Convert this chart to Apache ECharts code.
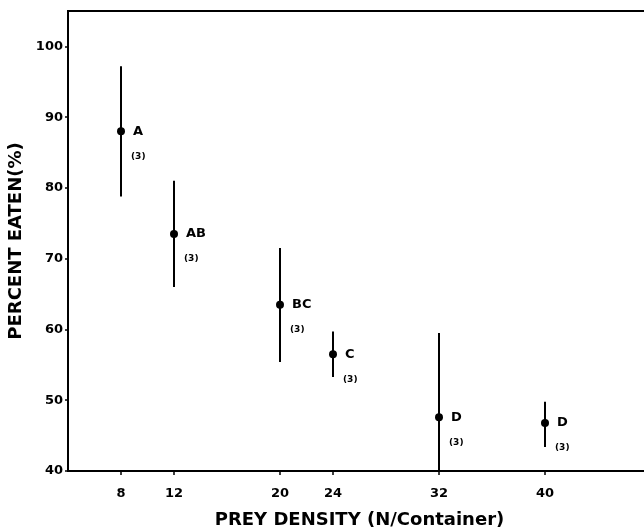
<!DOCTYPE html>
<html>
<head>
<meta charset="utf-8">
<script src="https://cdn.jsdelivr.net/npm/echarts@6/dist/echarts.min.js"></script>
<style>html,body{margin:0;padding:0;background:#fff}#c{width:644px;height:530px}</style>
</head>
<body>
<div id="c"></div>
<script>
// Data
const preyDensity = [8, 12, 20, 24, 32, 40];
const percentEaten = [88, 73.5, 63.5, 56.5, 47.6, 46.8];
const upperBound = [97.2, 81, 71.5, 59.7, 59.5, 49.8];
const lowerBound = [78.8, 66, 55.4, 53.3, 40, 43.4];
const groupLetters = ['A', 'AB', 'BC', 'C', 'D', 'D'];
const sampleSizes = ['(3)', '(3)', '(3)', '(3)', '(3)', '(3)'];
const xTickLabels = [8, 12, 20, 24, 32, 40];
const yTickLabels = [40, 50, 60, 70, 80, 90, 100];

const FONT = '"DejaVu Sans", "Liberation Sans", sans-serif';
const seriesData = preyDensity.map((x, i) => [x, percentEaten[i], lowerBound[i], upperBound[i]]);

const chart = echarts.init(document.getElementById('c'), null, {renderer: 'canvas'});
chart.setOption({
  animation: false,
  backgroundColor: '#fff',
  grid: {left: 68, top: 11, bottom: 59, right: -7, outerBoundsMode: 'none', containLabel: false, show: true, borderColor: '#000', borderWidth: 2, backgroundColor: 'transparent'},
  xAxis: {
    type: 'value', min: 4, max: 48,
    name: 'PREY DENSITY (N/Container)', nameLocation: 'middle', nameGap: 40,
    nameTextStyle: {fontFamily: FONT, fontWeight: 'bold', fontSize: 18, color: '#000'},
    axisLine: {show: true, lineStyle: {color: '#000', width: 2}},
    axisTick: {show: true, customValues: xTickLabels, length: 4, lineStyle: {color: '#000', width: 1.5}},
    axisLabel: {customValues: xTickLabels, margin: 16, fontFamily: FONT, fontWeight: 'bold', fontSize: 13, color: '#000'},
    splitLine: {show: false}
  },
  yAxis: {
    type: 'value', min: 40, max: 105,
    name: 'PERCENT EATEN(%)', nameLocation: 'middle', nameGap: 40,
    nameTextStyle: {fontFamily: FONT, fontWeight: 'bold', fontSize: 18, color: '#000'},
    axisLine: {show: true, lineStyle: {color: '#000', width: 2}},
    axisTick: {show: true, customValues: yTickLabels, length: 3, lineStyle: {color: '#000', width: 1.5}},
    axisLabel: {customValues: yTickLabels, margin: 5, fontFamily: FONT, fontWeight: 'bold', fontSize: 13, color: '#000'},
    splitLine: {show: false}
  },
  series: [{
    type: 'custom',
    data: seriesData,
    clip: true,
    renderItem: function (params, api) {
      const i = params.dataIndex;
      const x = api.value(0), m = api.value(1), lo = api.value(2), hi = api.value(3);
      const p = api.coord([x, m]);
      const a = api.coord([x, hi]);
      const b = api.coord([x, lo]);
      return {
        type: 'group',
        children: [
          {type: 'line', shape: {x1: a[0], y1: a[1], x2: b[0], y2: b[1]}, style: {stroke: '#000', lineWidth: 2}},
          {type: 'circle', shape: {cx: p[0], cy: p[1], r: 4}, style: {fill: '#000'}},
          {type: 'text', x: p[0] + 12, y: p[1], style: {text: groupLetters[i], font: 'bold 13px ' + FONT, fill: '#000', verticalAlign: 'middle', align: 'left'}},
          {type: 'text', x: p[0] + 10, y: p[1] + 25, style: {text: sampleSizes[i], font: 'bold 9px ' + FONT, fill: '#000', verticalAlign: 'middle', align: 'left'}}
        ]
      };
    }
  }]
});
</script>
</body>
</html>
